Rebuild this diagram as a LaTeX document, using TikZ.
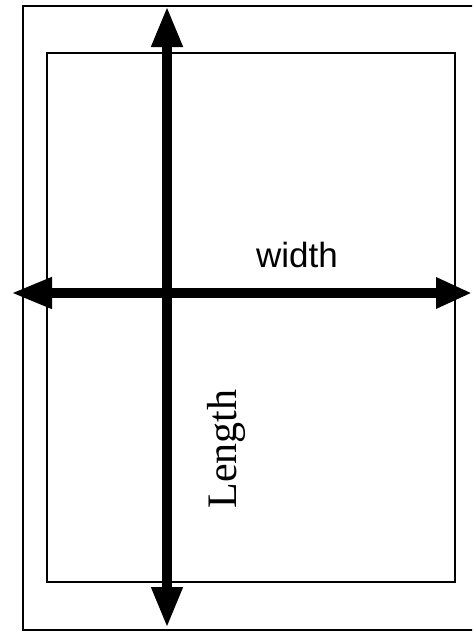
\documentclass[tikz,border=0pt]{standalone}
\usepackage{fontspec}
\setmainfont{Liberation Serif}
\newfontfamily\labelsans{Liberation Sans}
\usetikzlibrary{arrows.meta}
\begin{document}
\begin{tikzpicture}[x=1pt,y=-1pt,
  frame/.style={draw=black,line width=2pt},
  bigarrow/.style={draw=black,line width=10pt},
  lab/.style={inner sep=0pt,anchor=base}]
\useasboundingbox (0,0) rectangle (472,632);
\fill[white] (0,0) rectangle (472,632);
\clip (0,0) rectangle (472,632);
\draw[frame] (23,5.5) rectangle (490,630);
\draw[frame] (47,53) rectangle (455,582);
\coordinate (vtop) at (167,6);
\coordinate (vbot) at (167,628);
\coordinate (hleft) at (11,293);
\coordinate (hright) at (472,293);
\draw[bigarrow,{Triangle[length=41pt,width=29pt]}-{Triangle[length=41pt,width=29pt]}] (vtop) -- (vbot);
\draw[bigarrow,{Triangle[length=41pt,width=29pt]}-{Triangle[length=36pt,width=29pt]}] (hleft) -- (hright);
\node[lab,font=\labelsans\fontsize{35}{42}\selectfont] (w) at (297,267) {width};
\node[lab,rotate=90,font=\fontsize{42}{50}\selectfont] (l) at (236,449) {Length};
\end{tikzpicture}
\end{document}
